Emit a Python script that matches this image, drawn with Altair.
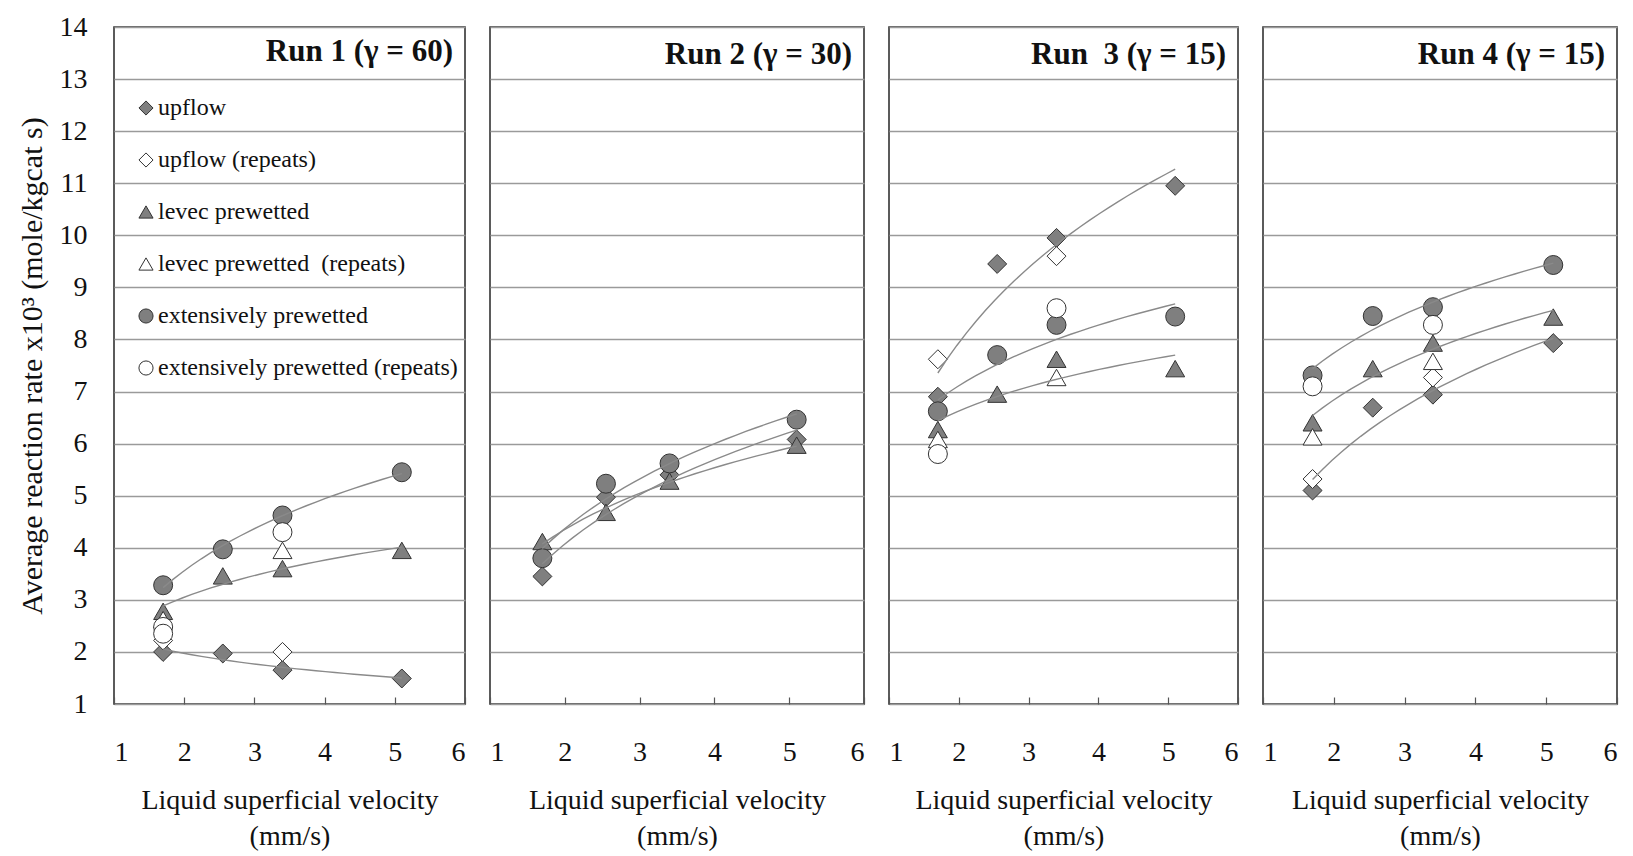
import altair as alt
import pandas as pd

# ---------------- data ----------------
SERIES = ["upflow", "upflow (repeats)", "levec prewetted",
          "levec prewetted\u00a0 (repeats)", "extensively prewetted",
          "extensively prewetted (repeats)"]
BASE = ["upflow", "upflow", "levec", "levec", "extensive", "extensive"]
FILLED = [True, False, True, False, True, False]
SHAPES = ["diamond", "diamond", "triangle-up", "triangle-up", "circle", "circle"]
FILLS = ["#7f7f7f", "#ffffff", "#7f7f7f", "#ffffff", "#7f7f7f", "#ffffff"]
STROKES = ["#333333"] * 6

RUN_TITLES = ["Run 1 (\u03b3 = 60)", "Run 2 (\u03b3 = 30)",
              "Run\u00a0 3 (\u03b3 = 15)", "Run 4 (\u03b3 = 15)"]
X_TICKS = [1, 2, 3, 4, 5, 6]
Y_TICKS = list(range(1, 15))

VEL = [1.7, 2.55, 3.4, 5.1]

# Run 1
R1_UPFLOW = [2.0, 1.97, 1.65, 1.49]
R1_UPFLOW_REP_X = [1.7, 3.4]
R1_UPFLOW_REP = [2.22, 2.0]
R1_LEVEC = [2.78, 3.46, 3.6, 3.95]
R1_LEVEC_REP_X = [1.7, 3.4]
R1_LEVEC_REP = [2.62, 3.95]
R1_EXT = [3.28, 3.97, 4.62, 5.45]
R1_EXT_REP_X = [1.7, 1.7, 3.4]
R1_EXT_REP = [2.48, 2.35, 4.3]

# Run 2
R2_UPFLOW = [3.45, 4.97, 5.4, 6.08]
R2_LEVEC = [4.12, 4.68, 5.28, 5.97]
R2_EXT = [3.8, 5.23, 5.62, 6.46]

# Run 3
R3_UPFLOW = [6.9, 9.45, 9.95, 10.95]
R3_UPFLOW_REP_X = [1.7, 3.4]
R3_UPFLOW_REP = [7.62, 9.6]
R3_LEVEC = [6.27, 6.95, 7.62, 7.44]
R3_LEVEC_REP_X = [1.7, 3.4]
R3_LEVEC_REP = [6.08, 7.27]
R3_EXT = [6.62, 7.7, 8.28, 8.44]
R3_EXT_REP_X = [1.7, 3.4]
R3_EXT_REP = [5.8, 8.6]

# Run 4
R4_UPFLOW = [5.1, 6.69, 6.94, 7.93]
R4_UPFLOW_REP_X = [1.7, 3.4]
R4_UPFLOW_REP = [5.32, 7.27]
R4_LEVEC = [6.4, 7.44, 7.93, 8.43]
R4_LEVEC_REP_X = [1.7, 3.4]
R4_LEVEC_REP = [6.13, 7.58]
R4_EXT = [7.31, 8.45, 8.62, 9.43]
R4_EXT_REP_X = [1.7, 3.4]
R4_EXT_REP = [7.1, 8.28]

PANELS = [
    [(VEL, R1_UPFLOW), (R1_UPFLOW_REP_X, R1_UPFLOW_REP), (VEL, R1_LEVEC),
     (R1_LEVEC_REP_X, R1_LEVEC_REP), (VEL, R1_EXT), (R1_EXT_REP_X, R1_EXT_REP)],
    [(VEL, R2_UPFLOW), ([], []), (VEL, R2_LEVEC), ([], []), (VEL, R2_EXT), ([], [])],
    [(VEL, R3_UPFLOW), (R3_UPFLOW_REP_X, R3_UPFLOW_REP), (VEL, R3_LEVEC),
     (R3_LEVEC_REP_X, R3_LEVEC_REP), (VEL, R3_EXT), (R3_EXT_REP_X, R3_EXT_REP)],
    [(VEL, R4_UPFLOW), (R4_UPFLOW_REP_X, R4_UPFLOW_REP), (VEL, R4_LEVEC),
     (R4_LEVEC_REP_X, R4_LEVEC_REP), (VEL, R4_EXT), (R4_EXT_REP_X, R4_EXT_REP)],
]
WIDTHS = [351, 374, 349, 354]
TITLE_DY = [50, 39, 39, 39]
HEIGHT = 677

FONT = "Liberation Serif"
TXT = "#111111"


def panel_df(series_data):
    rows = []
    for i, (xs, ys) in enumerate(series_data):
        for xv, yv in zip(xs, ys):
            rows.append({"v": xv, "rate": yv, "series": SERIES[i],
                         "base": BASE[i], "filled": FILLED[i]})
    return pd.DataFrame(rows)


legend = alt.Legend(
    title=None, orient="none", legendX=20, legendY=69, direction="vertical",
    labelFont=FONT, labelFontSize=24, labelColor=TXT, labelLimit=400,
    symbolSize=200, symbolStrokeWidth=1,
    symbolOpacity=1, rowPadding=28, labelOffset=0, padding=0,
)

x_axis = alt.Axis(
    values=X_TICKS, format="d", grid=False, domain=False, ticks=True, tickSize=7,
    tickColor="#555555", tickWidth=1.2, offset=-7, labelPadding=34,
    labelFont=FONT, labelFontSize=28, labelColor=TXT,
    title=["Liquid superficial velocity", "(mm/s)"], titleFont=FONT,
    titleFontSize=28, titleFontWeight="normal", titleColor=TXT,
    titlePadding=20, titleLineHeight=36,
)


def make_panel(k):
    df = panel_df(PANELS[k])
    first = k == 0
    if first:
        y_axis = alt.Axis(
            values=Y_TICKS, grid=True, domain=False, ticks=False,
            labelFont=FONT, labelFontSize=28, labelColor=TXT, labelPadding=27,
            title="Average reaction rate x10\u00b3 (mole/kgcat s)",
            titleFont=FONT, titleFontSize=30, titleFontWeight="normal",
            titleColor=TXT, titlePadding=12,
        )
    else:
        y_axis = alt.Axis(values=Y_TICKS, grid=True, domain=False, ticks=False,
                          labels=False, title=None)
    leg = legend if first else None
    pts = alt.Chart(df).mark_point(
        filled=True, size=360, strokeWidth=1, opacity=1
    ).encode(
        x=alt.X("v:Q", scale=alt.Scale(domain=[1, 6], nice=False), axis=x_axis),
        y=alt.Y("rate:Q", scale=alt.Scale(domain=[1, 14], nice=False), axis=y_axis),
        shape=alt.Shape("series:N", scale=alt.Scale(domain=SERIES, range=SHAPES), legend=leg),
        fill=alt.Fill("series:N", scale=alt.Scale(domain=SERIES, range=FILLS), legend=leg),
        stroke=alt.Stroke("series:N", scale=alt.Scale(domain=SERIES, range=STROKES), legend=leg),
    )
    lines = alt.Chart(df).transform_filter(
        "datum.filled"
    ).transform_regression(
        "v", "rate", method="log", groupby=["base"]
    ).mark_line(color="#8a8a8a", strokeWidth=1.4).encode(
        x="v:Q", y="rate:Q", detail="base:N"
    )
    title = alt.TitleParams(
        text=RUN_TITLES[k], anchor="end", frame="group", orient="top",
        offset=-36, baseline="bottom", font=FONT, fontSize=31,
        fontWeight="bold", color=TXT, dx=-12, dy=TITLE_DY[k],
    )
    return alt.layer(pts, lines).properties(width=WIDTHS[k], height=HEIGHT, title=title)


chart = alt.hconcat(
    *[make_panel(k) for k in range(4)], spacing=25, bounds="flush"
).resolve_legend(
    shape="independent", fill="independent", stroke="independent"
).configure_view(
    stroke="#333333", strokeWidth=1.6
).configure_axis(
    gridColor="#9a9a9a", gridWidth=1.4
).properties(
    padding={"left": 8, "top": 4, "right": 5, "bottom": 5},
    background="white",
)

chart.save("out.html", embed_options={"renderer": "svg", "actions": False})
